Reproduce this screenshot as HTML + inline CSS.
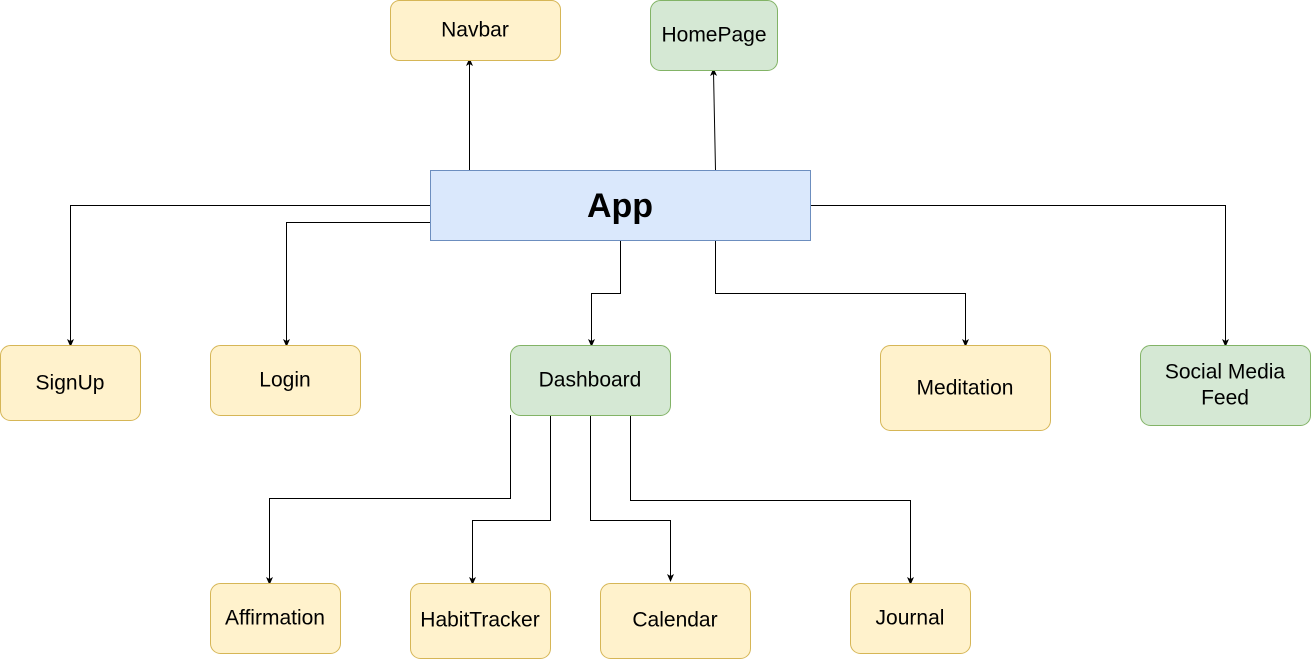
<!DOCTYPE html>
<html><head><meta charset="utf-8"><style>
html,body{margin:0;padding:0;background:#fff;}
svg{display:block;}
text{font-family:"Liberation Sans",Arial,sans-serif;font-size:21px;fill:#000;text-anchor:middle;dominant-baseline:central;}
.y{fill:#fff2cc;stroke:#d6b656;stroke-width:1;}
.g{fill:#d5e8d4;stroke:#82b366;stroke-width:1;}
.b{fill:#dae8fc;stroke:#6c8ebf;stroke-width:1;}
.e{fill:none;stroke:#000;stroke-width:1;}
</style></head><body>
<svg width="1311" height="659" viewBox="0 0 1311 659">
<defs><marker id="a" markerWidth="8" markerHeight="8" refX="4" refY="4" orient="auto" markerUnits="userSpaceOnUse"><path d="M0,0.5 L8,4 L0,7.5 L2,4 Z" fill="#000"/></marker></defs>
<g class="e" marker-end="url(#a)">
<path d="M469.5,170 V62"/>
<path d="M715.5,170 L713.5,72"/>
<path d="M430,205.5 H70.5 V343"/>
<path d="M430,222.5 H286.5 V343"/>
<path d="M620.5,240 V293.5 H591.5 V343"/>
<path d="M715.5,240 V293.5 H965.5 V343"/>
<path d="M810,205.5 H1225.5 V343"/>
<path d="M510.5,415 V498.5 H269.5 V581"/>
<path d="M550.5,415 V520.5 H472.5 V581"/>
<path d="M590.5,415 V520.5 H670.5 V578"/>
<path d="M630.5,415 V500.5 H910.5 V581"/>
</g>
<rect class="y" x="390.5" y="0.5" width="170" height="60" rx="9"/><text x="475" y="30">Navbar</text>
<rect class="g" x="650.5" y="0.5" width="127" height="70" rx="10"/><text x="714" y="35">HomePage</text>
<rect class="b" x="430.5" y="170.5" width="380" height="70"/><text x="620" y="206" style="font-size:34px;font-weight:bold">App</text>
<rect class="y" x="0.5" y="345.5" width="140" height="75" rx="10"/><text x="70" y="383">SignUp</text>
<rect class="y" x="210.5" y="345.5" width="150" height="70" rx="10"/><text x="285" y="380">Login</text>
<rect class="g" x="510.5" y="345.5" width="160" height="70" rx="10"/><text x="590" y="380">Dashboard</text>
<rect class="y" x="880.5" y="345.5" width="170" height="85" rx="10"/><text x="965" y="388">Meditation</text>
<rect class="g" x="1140.5" y="345.5" width="170" height="80" rx="10"/><text x="1225" y="372">Social Media</text><text x="1225" y="398">Feed</text>
<rect class="y" x="210.5" y="583.5" width="130" height="70" rx="10"/><text x="275" y="618">Affirmation</text>
<rect class="y" x="410.5" y="583.5" width="140" height="75" rx="10"/><text x="480" y="620">HabitTracker</text>
<rect class="y" x="600.5" y="583.5" width="150" height="75" rx="10"/><text x="675" y="620">Calendar</text>
<rect class="y" x="850.5" y="583.5" width="120" height="70" rx="10"/><text x="910" y="618">Journal</text>
</svg>
</body></html>
